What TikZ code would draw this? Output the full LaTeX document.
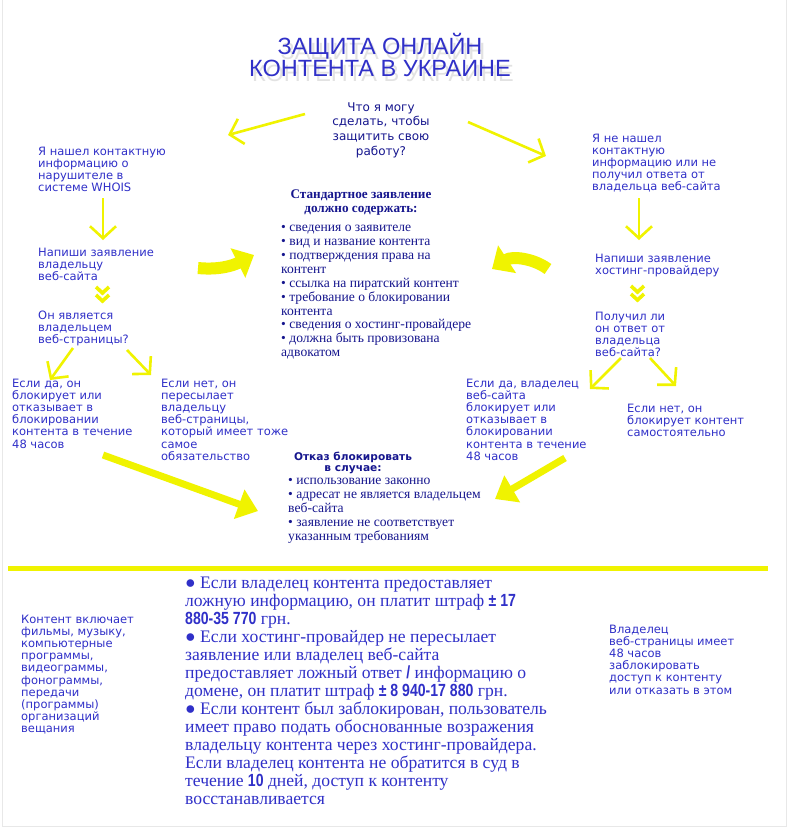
\documentclass[tikz,border=0pt]{standalone}
\usepackage{fontspec}
\setmainfont{Liberation Serif}
\newfontfamily\verd{DejaVu Sans}
\newfontfamily\arialf{Liberation Sans}
\newfontfamily\numfont[FakeStretch=0.8]{Liberation Sans Bold}
\usepackage{tikz}
\usetikzlibrary{arrows.meta}
\usepackage{xcolor}
\definecolor{ink}{HTML}{3030C8}
\definecolor{navyink}{HTML}{16168E}
\definecolor{hl}{HTML}{F0F300}

\begin{document}
\begin{tikzpicture}[x=1pt, y=-1pt,
    txt/.style={anchor=north west, align=left, inner sep=0pt, text=ink, font=\verd\fontsize{11.5}{12.1}\selectfont},
    serlist/.style={anchor=north west, align=left, inner sep=0pt, text=navyink, font=\fontsize{13.6}{13.9}\selectfont},
    thinarrow/.style={draw=hl, line width=2.6pt, -{Straight Barb[length=12pt, width=26pt]}},
    fatarrow/.style={draw=hl, line width=7pt, -{Triangle[length=20pt, width=30pt]}},
    curvearrow/.style={draw=hl, line width=12pt, -{Triangle[length=18pt, width=32pt]}},
    chevron/.style={draw=hl, line width=3.6pt, line join=miter}]
    \useasboundingbox (0,0) rectangle (795,831);
    \fill[white] (0,0) rectangle (795,831);
    \draw[gray!18] (2,0) |- (786,826) -- (786,0);

    % Titel mit Schatten
    \node[text=gray!45, opacity=0.5, align=center, font=\arialf\fontsize{23.5}{22}\selectfont] (titleshadow) at (383,60) {ЗАЩИТА ОНЛАЙН\\КОНТЕНТА В УКРАИНЕ};
    \node[text=ink, align=center, font=\arialf\fontsize{23.5}{22}\selectfont] (title) at (380,55) {ЗАЩИТА ОНЛАЙН\\КОНТЕНТА В УКРАИНЕ};
    \node[text=navyink, align=center, font=\verd\fontsize{12}{14.6}\selectfont] (question) at (381,130) {Что я могу\\сделать, чтобы\\защитить свою\\работу?};
    \coordinate (qleft) at (305,114);
    \coordinate (qleftend) at (228,135);
    \coordinate (qright) at (468,122);
    \coordinate (qrightend) at (546,156);
    \draw[thinarrow] (qleft) -- (qleftend);
    \draw[thinarrow] (qright) -- (qrightend);

    % linke Spalte
    \node[txt] (whois) at (38,147) {Я нашел контактную\\информацию о\\нарушителе в\\системе WHOIS};
    \coordinate (whoisend) at (103,198);
    \coordinate (writeone) at (103,240);
    \draw[thinarrow] (whoisend) -- (writeone);
    \node[txt] (letterowner) at (38,248) {Напиши заявление\\владельцу\\веб-сайта};
    \draw[chevron] (96,287) -- (102.5,293) -- (109,287);
    \draw[chevron] (96,295) -- (102.5,301) -- (109,295);
    \node[txt] (isowner) at (38,311) {Он является\\владельцем\\веб-страницы?};
    \coordinate (ownerl) at (73,348);
    \coordinate (ownerlend) at (50,380);
    \coordinate (ownerr) at (127,350);
    \coordinate (ownerrend) at (151,375);
    \draw[thinarrow] (ownerl) -- (ownerlend);
    \draw[thinarrow] (ownerr) -- (ownerrend);
    \node[txt] (yesone) at (12,379) {Если да, он\\блокирует или\\отказывает в\\блокировании\\контента в течение\\48 часов};
    \node[txt] (noone) at (161,379) {Если нет, он\\пересылает\\владельцу\\веб-страницы,\\который имеет тоже\\самое\\обязательство};

    % Mitte
    \node[text=navyink, align=center, inner sep=0pt, font=\bfseries\fontsize{13.2}{14}\selectfont] (stdhead) at (361,203) {Стандартное заявление\\должно содержать:};
    \node[serlist] (stdlist) at (281,225) {• сведения о заявителе\\• вид и название контента\\• подтверждения права на\\контент\\• ссылка на пиратский контент\\• требование о блокировании\\контента\\• сведения о хостинг-провайдере\\• должна быть провизована\\адвокатом};
    \coordinate (curlstart) at (198,268);
    \coordinate (curlend) at (254,255);
    \draw[curvearrow] (curlstart) .. controls (218,270) and (232,266) .. (curlend);
    \coordinate (curlrstart) at (548,269);
    \coordinate (curlrend) at (492,269);
    \draw[curvearrow] (curlrstart) .. controls (533,258) and (512,256) .. (curlrend);

    % rechte Spalte
    \node[txt] (nowhois) at (592,134) {Я не нашел\\контактную\\информацию или не\\получил ответа от\\владельца веб-сайта};
    \coordinate (nowhoisend) at (639,198);
    \coordinate (writetwo) at (639,240);
    \draw[thinarrow] (nowhoisend) -- (writetwo);
    \node[txt] (letterhost) at (595,254) {Напиши заявление\\хостинг-провайдеру};
    \draw[chevron] (631,286) -- (637.5,292) -- (644,286);
    \draw[chevron] (631,294) -- (637.5,300) -- (644,294);
    \node[txt] (gotreply) at (595,312) {Получил ли\\он ответ от\\владельца\\веб-сайта?};
    \coordinate (replyl) at (621,358);
    \coordinate (replylend) at (590,389);
    \coordinate (replyr) at (650,358);
    \coordinate (replyrend) at (676,386);
    \draw[thinarrow] (replyl) -- (replylend);
    \draw[thinarrow] (replyr) -- (replyrend);
    \node[txt] (yestwo) at (466,379) {Если да, владелец\\веб-сайта\\блокирует или\\отказывает в\\блокировании\\контента в течение\\48 часов};
    \node[txt] (notwo) at (627,404) {Если нет, он\\блокирует контент\\самостоятельно};

    % Ablehnung
    \coordinate (yesonefoot) at (103,455);
    \coordinate (refuseleft) at (258,511);
    \coordinate (yestwofoot) at (565,458);
    \coordinate (refuseright) at (495,499);
    \draw[fatarrow] (yesonefoot) -- (refuseleft);
    \draw[fatarrow] (yestwofoot) -- (refuseright);
    \node[text=navyink, align=center, inner sep=0pt, font=\verd\bfseries\fontsize{10.6}{11}\selectfont] (refhead) at (353,463) {Отказ блокировать\\в случае:};
    \node[serlist] (reflist) at (288,478) {• использование законно\\• адресат не является владельцем\\веб-сайта\\• заявление не соответствует\\указанным требованиям};

    % Trennlinie
    \coordinate (sepleft) at (8,568);
    \coordinate (sepright) at (768,568);
    \draw[hl, line width=5pt] (sepleft) -- (sepright);

    % unten
    \node[txt] (contentkinds) at (21,615) {Контент включает\\фильмы, музыку,\\компьютерные\\программы,\\видеограммы,\\фонограммы,\\передачи\\(программы)\\организаций\\вещания};
    \node[anchor=north west, align=left, inner sep=0pt, text=ink, font=\fontsize{17.6}{18}\selectfont] (fines) at (185,577) {● Если владелец контента предоставляет\\ложную информацию, он платит штраф {\numfont ± 17}\\{\numfont 880-35 770} грн.\\● Если хостинг-провайдер не пересылает\\заявление или владелец веб-сайта\\предоставляет ложный ответ {\numfont /} информацию о\\домене, он платит штраф {\numfont ± 8 940-17 880} грн.\\● Если контент был заблокирован, пользователь\\имеет право подать обоснованные возражения\\владельцу контента через хостинг-провайдера.\\Если владелец контента не обратится в суд в\\течение {\numfont 10} дней, доступ к контенту\\восстанавливается};
    \node[txt] (hours) at (609,625) {Владелец\\веб-страницы имеет\\48 часов\\заблокировать\\доступ к контенту\\или отказать в этом};
\end{tikzpicture}
\end{document}
